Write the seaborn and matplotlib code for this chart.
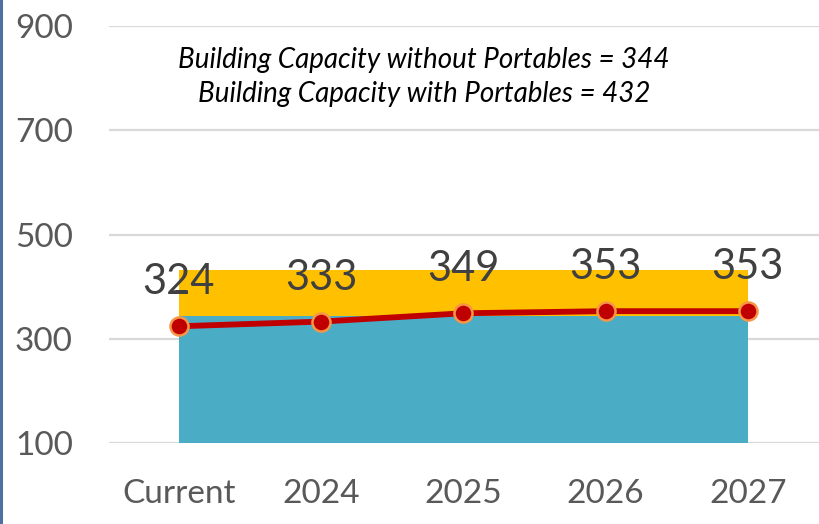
import matplotlib
matplotlib.use("Agg")
import matplotlib.pyplot as plt
from matplotlib.lines import Line2D
import seaborn as sns
import pandas as pd

# Enrollment projection data
categories = ["Current", "2024", "2025", "2026", "2027"]
enrollment = [324, 333, 349, 353, 353]
capacity_without_portables = 344
capacity_with_portables = 432

y_ticks = [100, 300, 500, 700, 900]

sns.set_theme(style="white")
plt.rcParams["font.family"] = ["Lato", "DejaVu Sans"]

df = pd.DataFrame({"year": categories, "students": enrollment})
df["pos"] = range(len(df))

fig = plt.figure(figsize=(8.19, 5.24), dpi=100)
ax = fig.add_axes([0.133, 0.1546, 0.867, 0.7954])

# Capacity bands behind the enrollment line
base = y_ticks[0]
ax.fill_between(df["pos"], base, capacity_without_portables,
                color="#4BACC6", linewidth=0, zorder=1)
ax.fill_between(df["pos"], capacity_without_portables, capacity_with_portables,
                color="#FFC000", linewidth=0, zorder=1)

sns.lineplot(data=df, x="pos", y="students", ax=ax, color="#C00000",
             linewidth=4.2, marker="o", markersize=13,
             markerfacecolor="#C00000", markeredgecolor="#F79646",
             markeredgewidth=1.8, zorder=3)

for x, v in zip(df["pos"], df["students"]):
    ax.annotate(f"{v}", (x, v), xytext=(0, 23), textcoords="offset points",
                ha="center", va="baseline", fontsize=30, color="#404040",
                zorder=4)

ax.set_xlim(-0.49, 4.5)
ax.set_ylim(y_ticks[0], y_ticks[-1])
ax.set_yticks(y_ticks)
ax.set_xticks(df["pos"])
ax.set_xticklabels(categories, fontsize=24, color="#595959")
ax.tick_params(axis="x", length=0, pad=26)
ax.tick_params(axis="y", length=0, pad=26, labelsize=24, labelcolor="#595959")
ax.set_xlabel("")
ax.set_ylabel("")
ax.grid(axis="y", color="#D9D9D9", linewidth=1.6, zorder=0)
ax.set_axisbelow(True)
for s in ax.spines.values():
    s.set_visible(False)

fig.text(0.518, 1 - 68 / 524, "Building Capacity without Portables = 344",
         ha="center", va="baseline", fontsize=20, style="italic", color="black")
fig.text(0.518, 1 - 102 / 524, "Building Capacity with Portables = 432",
         ha="center", va="baseline", fontsize=20, style="italic", color="black")

fig.add_artist(Line2D([0.0015, 0.0015], [0, 1], transform=fig.transFigure,
                      color="#4F6FA0", linewidth=2.2))

fig.savefig("out.png", dpi=100)
